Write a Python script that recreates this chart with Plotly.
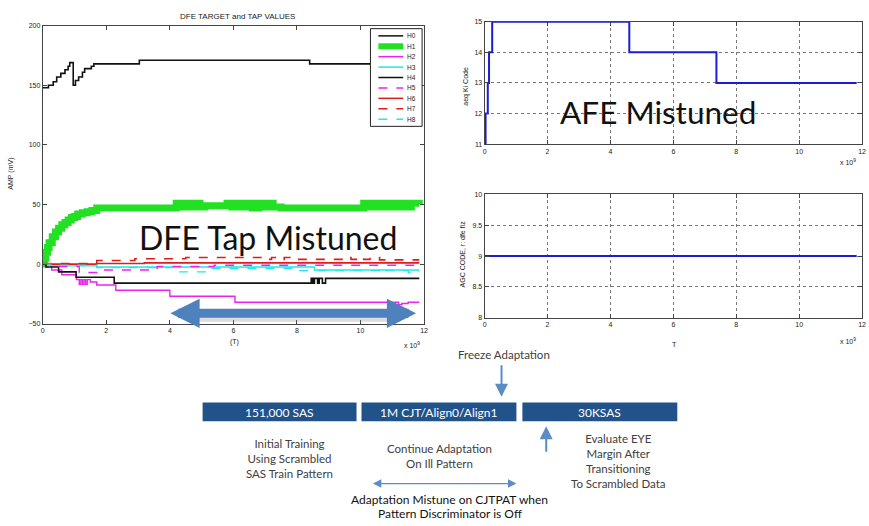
import plotly.graph_objects as go

W, H = 869, 526

# ---------------- data ----------------
H0_x = [0, 0.18, 0.33, 0.44, 0.57, 0.70, 0.80, 0.85, 0.96, 1.03, 1.13, 1.25, 1.32, 1.53, 1.61, 3.04, 8.40, 11.85]
H0_y = [148, 150, 153, 157, 160, 163, 166, 169, 150, 154, 157, 161, 164, 166, 168, 171, 168, 168]

H1_x = [0, 0.05, 0.1, 0.15, 0.2, 0.3, 0.4, 0.5, 0.6, 0.7, 0.8, 0.9, 1.0, 1.1, 1.25, 1.4, 1.55, 1.7,
        4.2, 4.35, 4.5, 4.65, 4.8, 4.95, 5.1, 5.8, 5.95, 6.1, 6.25, 6.4, 6.6, 6.8, 6.95, 7.1, 7.25, 7.5,
        10.1, 10.25, 10.4, 10.55, 10.7, 10.85, 11.0, 11.15, 11.3, 11.45, 11.6, 11.85]
H1_y = [0, 5, 10, 14, 18, 23, 27, 30, 33, 35, 37, 39, 40, 42, 43, 44, 45, 47,
        51, 48, 51, 48, 51, 48, 49, 51, 48, 51, 48, 51, 47, 51, 48, 51, 48, 47,
        51, 48, 51, 48, 51, 48, 51, 48, 51, 48, 51, 50]

H2_x = [0, 0.28, 0.6, 1.06, 1.15, 1.2, 1.25, 1.3, 1.35, 1.4, 1.5, 1.7, 2.3, 4.0, 6.05, 11.05, 11.1, 11.2, 11.3, 11.5, 11.85]
H2_y = [0, -5, -9, -13, -17, -13, -17, -13, -17, -13, -15, -17.5, -22, -27, -32, -34, -32, -34, -33, -32, -32]

H3_x = [0, 0.1, 1.7, 8.55, 11.85]
H3_y = [0, -1.5, -2.5, -5, -5]

H4_x = [0, 0.1, 0.5, 1.05, 2.25, 8.45, 8.5, 8.55, 8.65, 8.7, 8.8, 8.9, 11.85]
H4_y = [0, -2.5, -6.5, -11, -16, -12, -16, -12, -16, -12, -16, -12, -12]

H5_x = [0, 0.5, 1.15, 1.8, 3.6, 5.4, 11.85]
H5_y = [0, -2, -7, -5, -2, -1, -1]

H6_x = [0, 1.7, 3.2, 11.85]
H6_y = [0, 0.5, 1.0, 1.0]

H7_x = [0, 1.7, 2.9, 4.5, 7.0, 7.2, 7.4, 7.6, 7.8, 8.1, 9.5, 9.7, 9.9, 10.1, 10.3, 10.6, 11.85]
H7_y = [0.5, 3, 4.5, 5.5, 4, 5.5, 4, 5.5, 4, 4, 5.5, 4, 5.5, 4, 5.5, 3.5, 3.5]

H8_x = [0, 0.3, 1.7, 4.2, 5.3, 7.9, 10.6, 10.75, 11.5, 11.55, 11.85]
H8_y = [0, -1, -3, -6.5, -3.5, -5.5, -7, -5.5, -7, -5.5, -5.5]

tap_names = ["H0", "H1", "H2", "H3", "H4", "H5", "H6", "H7", "H8"]
tap_x = [H0_x, H1_x, H2_x, H3_x, H4_x, H5_x, H6_x, H7_x, H8_x]
tap_y = [H0_y, H1_y, H2_y, H3_y, H4_y, H5_y, H6_y, H7_y, H8_y]
tap_colors = ["#111111", "#22e022", "#ee22ee", "#22e8e8", "#111111", "#ee22ee", "#dd1c1c", "#dd1c1c", "#22e8e8"]
tap_dash = ["solid", "solid", "solid", "solid", "solid", "dash", "solid", "dash", "dash"]
tap_width = [1.6, 7, 1.4, 1.4, 1.6, 1.4, 1.6, 1.6, 1.4]

AEQ_x = [0, 0.03, 0.1, 0.14, 0.24, 4.6, 7.37, 11.83]
AEQ_y = [11, 12, 13, 14, 15, 14, 13, 13]

AGC_x = [0, 11.83]
AGC_y = [9, 9]

x_ticks = [0, 2, 4, 6, 8, 10, 12]
amp_ticks = [-50, 0, 50, 100, 150, 200]
aeq_ticks = [11, 12, 13, 14, 15]
agc_ticks = [8, 8.5, 9, 9.5, 10]

stage_labels = ["151,000 SAS", "1M CJT/Align0/Align1", "30KSAS"]
stage_notes = ["Initial Training<br>Using Scrambled<br>SAS Train Pattern",
               "Continue Adaptation<br>On Ill Pattern",
               "Evaluate EYE<br>Margin After<br>Transitioning<br>To Scrambled Data"]


def px(p):
    return p / W


def py(p):
    return 1 - p / H


fig = go.Figure()

for i in range(len(tap_names)):
    fig.add_trace(go.Scatter(x=tap_x[i], y=tap_y[i], mode="lines", name=tap_names[i],
                             line=dict(color=tap_colors[i], dash=tap_dash[i], width=tap_width[i], shape="hv"),
                             xaxis="x", yaxis="y", showlegend=False))

fig.add_trace(go.Scatter(x=AEQ_x, y=AEQ_y, mode="lines", line=dict(color="#1c1cd8", width=2, shape="hv"),
                         xaxis="x2", yaxis="y2", showlegend=False))
fig.add_trace(go.Scatter(x=AGC_x, y=AGC_y, mode="lines", line=dict(color="#1c1cd8", width=2, shape="hv"),
                         xaxis="x3", yaxis="y3", showlegend=False))

tickfont = dict(family="Liberation Sans", size=7, color="#222")
common_ax = dict(showline=True, linecolor="#444", linewidth=1, mirror="ticks", ticks="inside",
                 ticklen=4, tickcolor="#444", tickfont=tickfont, zeroline=False)
grid = dict(showgrid=True, gridcolor="#777", griddash="dot", gridwidth=1)

fig.update_layout(
    width=W, height=H, margin=dict(l=0, r=0, t=0, b=0),
    paper_bgcolor="white", plot_bgcolor="white",
    xaxis=dict(domain=[px(41), px(425)], range=[0, 12], tickvals=x_ticks, anchor="y", showgrid=False, **common_ax),
    yaxis=dict(domain=[py(324), py(22)], range=[-50, 200], tickvals=amp_ticks, anchor="x", showgrid=False, **common_ax),
    xaxis2=dict(domain=[px(486), px(866)], range=[0, 12], tickvals=x_ticks, anchor="y2", **grid, **common_ax),
    yaxis2=dict(domain=[py(142), py(18)], range=[11, 15], tickvals=aeq_ticks, anchor="x2", **grid, **common_ax),
    xaxis3=dict(domain=[px(486), px(866)], range=[0, 12], tickvals=x_ticks, anchor="y3", **grid, **common_ax),
    yaxis3=dict(domain=[py(318), py(193)], range=[8, 10], tickvals=agc_ticks, anchor="x3", **grid, **common_ax),
)

small = dict(family="Liberation Sans", size=7, color="#222")
ann = []


def text(x, y, t, font, angle=0, xanchor="center", yanchor="middle"):
    ann.append(dict(x=px(x), y=py(y), xref="paper", yref="paper", text=t, showarrow=False,
                    font=font, textangle=angle, xanchor=xanchor, yanchor=yanchor, align="center"))


text(237, 13, "DFE TARGET and TAP VALUES", dict(family="Liberation Sans", size=8, color="#222"))
text(9, 172, "AMP (mV)", small, angle=-90)
text(234, 343, "(T)", small)
text(413, 346, "x 10<sup>9</sup>", small)
text(467, 83, "aeq Ki Code", small, angle=-90)
text(852, 160, "x 10<sup>9</sup>", small)
text(464, 253, "AGC CODE, r: dfe fiz", small, angle=-90)
text(677, 345, "T", small)
text(852, 342, "x 10<sup>9</sup>", small)

text(268, 237, "DFE Tap Mistuned", dict(family="Lato", size=32, color="#111"))
text(661, 109, "AFE Mistuned", dict(family="Lato", size=31.5, color="#111"))

# manual legend
shapes = []
shapes.append(dict(type="rect", xref="paper", yref="paper", x0=px(371), x1=px(423), y0=py(124), y1=py(25),
                   line=dict(color="#222", width=1), fillcolor="white", layer="above"))
for i, nm in enumerate(tap_names):
    yy = 32.3 + i * 10.55
    shapes.append(dict(type="line", xref="paper", yref="paper", x0=px(379), x1=px(404), y0=py(yy), y1=py(yy),
                       line=dict(color=tap_colors[i], width=(6 if tap_width[i] > 3 else 1.5), dash=tap_dash[i]),
                       layer="above"))
    text(406, yy, nm, dict(family="Liberation Sans", size=6.5, color="#222"), xanchor="left")

# big blue double arrow in left plot (with soft shadow)
shapes.append(dict(type="line", xref="paper", yref="paper", x0=px(190), x1=px(396), y0=py(318), y1=py(318),
                   line=dict(color="rgba(140,140,140,0.3)", width=8)))
ann.append(dict(x=11.75, y=-41.3, ax=3.97, ay=-41.3, xref="x", yref="y", axref="x", ayref="y", text="",
                showarrow=True, arrowhead=2, arrowside="end+start", arrowwidth=9, arrowsize=0.65,
                arrowcolor="#4f81bd"))

# stage boxes
box_x = [(202, 357), (362, 518), (524, 680)]
for (x0, x1), lab in zip(box_x, stage_labels):
    shapes.append(dict(type="rect", xref="paper", yref="paper", x0=px(x0), x1=px(x1), y0=py(423), y1=py(404),
                       line=dict(width=0), fillcolor="#22528a"))
    text((x0 + x1) / 2, 414, lab, dict(family="Lato", size=12, color="white"))

note_font = dict(family="Lato", size=11.5, color="#404040")
text(289, 437, stage_notes[0], note_font, yanchor="top")
text(441, 442, stage_notes[1], note_font, yanchor="top")
text(621, 432, stage_notes[2], note_font, yanchor="top")

text(505, 355, "Freeze Adaptation", dict(family="Lato", size=11.5, color="#404040"))
text(451, 502, "Adaptation Mistune on CJTPAT when", dict(family="Lato", size=12, color="#111"))
text(451, 516, "Pattern Discriminator is Off", dict(family="Lato", size=12, color="#111"))

arrow_col = "#5b8cc6"
# freeze arrow (down)
ann.append(dict(x=px(503), y=py(398), xref="paper", yref="paper", ax=0, ay=-33, text="", showarrow=True,
                arrowhead=2, arrowwidth=2, arrowsize=1.3, arrowcolor=arrow_col))
# up arrow
ann.append(dict(x=px(548), y=py(428), xref="paper", yref="paper", ax=0, ay=27, text="", showarrow=True,
                arrowhead=2, arrowwidth=2, arrowsize=1.3, arrowcolor=arrow_col))
# double arrow
ann.append(dict(x=px(518), y=py(486), xref="paper", yref="paper", ax=-145, ay=0, text="", showarrow=True,
                arrowhead=2, arrowside="end+start", arrowwidth=1.2, arrowsize=1.4, arrowcolor=arrow_col))

fig.update_layout(annotations=ann, shapes=shapes)
fig.write_html("out.html", config={"displayModeBar": False},
               post_script="document.body.style.margin='0';document.body.style.overflow='hidden';")
